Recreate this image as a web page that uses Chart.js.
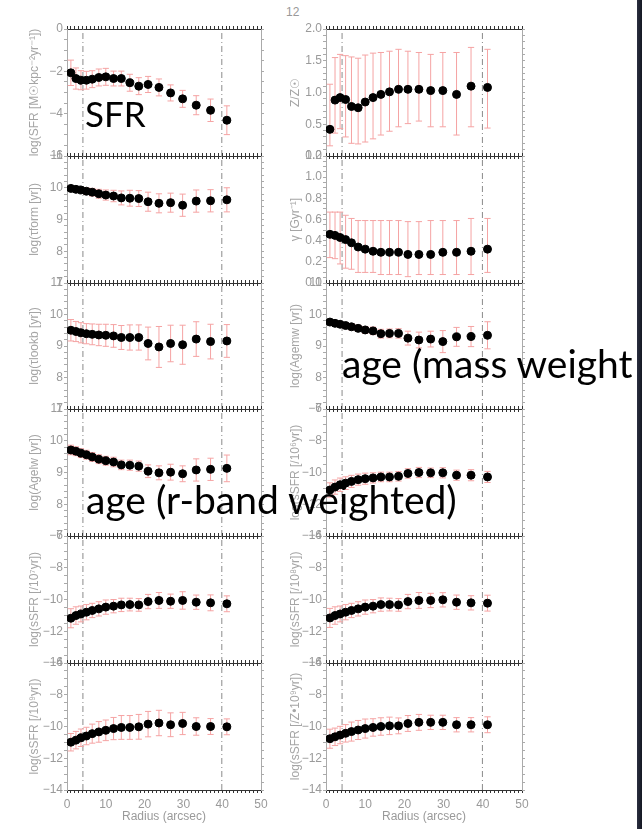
<!DOCTYPE html>
<html>
<head>
<meta charset="UTF-8">
<title>Radial profiles</title>
<script src="https://cdn.jsdelivr.net/npm/chart.js"></script>
<style>
  body { margin: 0; width: 642px; height: 829px; background: #fff; position: relative; overflow: hidden; }
  canvas { position: absolute; }
  .note { position: absolute; font-family: Lato, "Open Sans", sans-serif; color: #000; white-space: nowrap; line-height: 1; }
  #pagenum { position: absolute; left: 286px; top: 5px; font: 12px "Liberation Sans", sans-serif; color: #999; }
  #strip { position: absolute; right: 0; top: 0; width: 5px; height: 829px; background: linear-gradient(to right, #2a2e40, #141722); }
</style>
</head>
<body>
<div id="pagenum">12</div>
<div id="strip"></div>

<script>
// radius of each annulus (arcsec), shared by all panels
const radius = [1.0, 2.3, 3.6, 5.0, 6.5, 8.2, 10.0, 12.0, 14.0, 16.2, 18.5, 20.9, 23.7, 26.7, 29.8, 33.3, 37.0, 41.2];
// dash-dot reference radii
const markR = [4.1, 39.9];

const sfr      = [-2.07, -2.34, -2.42, -2.42, -2.37, -2.29, -2.26, -2.34, -2.34, -2.54, -2.70, -2.62, -2.76, -3.02, -3.30, -3.60, -3.84, -4.31];
const sfrErr   = [0.60, 0.50, 0.45, 0.42, 0.40, 0.40, 0.40, 0.35, 0.35, 0.40, 0.40, 0.38, 0.40, 0.38, 0.40, 0.45, 0.53, 0.68];

const metal    = [0.42, 0.88, 0.92, 0.89, 0.78, 0.76, 0.85, 0.92, 0.97, 1.01, 1.05, 1.05, 1.05, 1.03, 1.03, 0.97, 1.10, 1.08];
const metalHi  = [1.13, 1.55, 1.60, 1.58, 1.56, 1.54, 1.59, 1.62, 1.63, 1.65, 1.68, 1.65, 1.63, 1.60, 1.63, 1.63, 1.71, 1.68];
const metalLo  = [0.16, 0.36, 0.43, 0.30, 0.20, 0.19, 0.22, 0.27, 0.33, 0.39, 0.46, 0.51, 0.55, 0.46, 0.46, 0.33, 0.46, 0.44];

const tauForm    = [9.98, 9.95, 9.93, 9.89, 9.86, 9.81, 9.77, 9.74, 9.68, 9.67, 9.66, 9.56, 9.51, 9.53, 9.45, 9.58, 9.59, 9.62];
const tauFormErr = [0.06, 0.07, 0.08, 0.10, 0.12, 0.14, 0.16, 0.18, 0.22, 0.25, 0.25, 0.30, 0.30, 0.30, 0.35, 0.35, 0.35, 0.38];

const gamma    = [0.46, 0.45, 0.43, 0.41, 0.38, 0.34, 0.32, 0.30, 0.29, 0.29, 0.29, 0.27, 0.27, 0.27, 0.29, 0.29, 0.30, 0.32];
const gammaHi  = [0.67, 0.67, 0.67, 0.64, 0.61, 0.59, 0.59, 0.59, 0.59, 0.59, 0.59, 0.58, 0.58, 0.59, 0.59, 0.59, 0.61, 0.61];
const gammaLo  = [0.24, 0.23, 0.18, 0.14, 0.13, 0.10, 0.10, 0.10, 0.08, 0.08, 0.08, 0.06, 0.08, 0.08, 0.08, 0.08, 0.08, 0.10];

const tauLookb    = [9.50, 9.46, 9.42, 9.39, 9.37, 9.35, 9.34, 9.32, 9.27, 9.27, 9.27, 9.08, 8.97, 9.08, 9.04, 9.22, 9.14, 9.16];
const tauLookbErr = [0.34, 0.32, 0.32, 0.32, 0.33, 0.34, 0.35, 0.36, 0.38, 0.40, 0.40, 0.52, 0.65, 0.58, 0.62, 0.55, 0.55, 0.52];

const ageMw    = [9.76, 9.72, 9.69, 9.65, 9.61, 9.56, 9.51, 9.48, 9.39, 9.40, 9.40, 9.25, 9.19, 9.22, 9.14, 9.29, 9.30, 9.34];
const ageMwErr = [0.08, 0.08, 0.08, 0.09, 0.10, 0.10, 0.11, 0.12, 0.14, 0.14, 0.15, 0.22, 0.25, 0.25, 0.35, 0.30, 0.32, 0.43];

const ageLw    = [9.71, 9.67, 9.61, 9.56, 9.49, 9.42, 9.37, 9.33, 9.24, 9.23, 9.20, 9.04, 8.99, 9.01, 8.96, 9.08, 9.10, 9.13];
const ageLwErr = [0.15, 0.14, 0.14, 0.14, 0.14, 0.14, 0.14, 0.15, 0.15, 0.16, 0.16, 0.20, 0.22, 0.25, 0.25, 0.35, 0.35, 0.42];

const ssfr6    = [-11.10, -10.92, -10.77, -10.67, -10.56, -10.45, -10.39, -10.34, -10.28, -10.28, -10.24, -10.06, -10.00, -10.02, -10.02, -10.17, -10.17, -10.28];
const ssfr6Err = [0.45, 0.45, 0.42, 0.40, 0.38, 0.35, 0.35, 0.32, 0.30, 0.30, 0.30, 0.30, 0.32, 0.30, 0.32, 0.32, 0.35, 0.35];

const ssfr7    = [-11.18, -11.01, -10.91, -10.80, -10.69, -10.59, -10.48, -10.42, -10.34, -10.32, -10.34, -10.13, -10.06, -10.11, -10.06, -10.17, -10.21, -10.27];
const ssfr7Err = [0.60, 0.55, 0.50, 0.48, 0.45, 0.45, 0.45, 0.42, 0.42, 0.40, 0.40, 0.45, 0.50, 0.45, 0.55, 0.45, 0.50, 0.50];

const ssfr8    = [-11.16, -11.01, -10.91, -10.80, -10.69, -10.59, -10.48, -10.42, -10.32, -10.32, -10.34, -10.13, -10.06, -10.06, -10.02, -10.17, -10.21, -10.23];
const ssfr8Err = [0.60, 0.55, 0.50, 0.48, 0.45, 0.45, 0.45, 0.42, 0.42, 0.40, 0.40, 0.45, 0.50, 0.45, 0.45, 0.45, 0.45, 0.50];

const ssfr9    = [-10.99, -10.86, -10.71, -10.60, -10.45, -10.34, -10.24, -10.13, -10.06, -10.06, -10.02, -9.85, -9.78, -9.89, -9.81, -10.00, -10.00, -10.02];
const ssfr9Err = [0.55, 0.55, 0.55, 0.55, 0.60, 0.65, 0.65, 0.70, 0.75, 0.75, 0.78, 0.80, 0.80, 0.75, 0.70, 0.55, 0.50, 0.50];

const ssfrZ    = [-10.77, -10.65, -10.54, -10.43, -10.32, -10.22, -10.13, -10.06, -10.00, -9.96, -9.96, -9.81, -9.74, -9.74, -9.74, -9.89, -9.89, -9.89];
const ssfrZErr = [0.60, 0.55, 0.55, 0.55, 0.60, 0.60, 0.60, 0.55, 0.55, 0.55, 0.50, 0.50, 0.50, 0.45, 0.45, 0.45, 0.45, 0.50];

const xTickLabels = [0, 10, 20, 30, 40, 50];

function minus(v, i) { return v.map((a, k) => a - i[k]); }
function plus(v, i) { return v.map((a, k) => a + i[k]); }

const panels = [
  { col: 0, row: 0, title: 'log(SFR [M\u2609kpc\u207B\u00B2yr\u207B\u00B9])', min: -6, max: 0, major: 2, minor: 0.5, dec: 0, y: sfr, lo: minus(sfr, sfrErr), hi: plus(sfr, sfrErr) },
  { col: 1, row: 0, title: 'Z/Z\u2609', min: 0, max: 2, major: 0.5, minor: 0.1, dec: 1, y: metal, lo: metalLo, hi: metalHi },
  { col: 0, row: 1, title: 'log(\u03C4form [yr])', min: 7, max: 11, major: 1, minor: 0.2, dec: 0, y: tauForm, lo: minus(tauForm, tauFormErr), hi: plus(tauForm, tauFormErr) },
  { col: 1, row: 1, title: '\u03B3 [Gyr\u207B\u00B9]', min: 0, max: 1.2, major: 0.2, minor: 0.05, dec: 1, y: gamma, lo: gammaLo, hi: gammaHi },
  { col: 0, row: 2, title: 'log(\u03C4lookb [yr])', min: 7, max: 11, major: 1, minor: 0.2, dec: 0, y: tauLookb, lo: minus(tauLookb, tauLookbErr), hi: plus(tauLookb, tauLookbErr) },
  { col: 1, row: 2, title: 'log(Agemw [yr])', min: 7, max: 11, major: 1, minor: 0.2, dec: 0, y: ageMw, lo: minus(ageMw, ageMwErr), hi: plus(ageMw, ageMwErr) },
  { col: 0, row: 3, title: 'log(Agelw [yr])', min: 7, max: 11, major: 1, minor: 0.2, dec: 0, y: ageLw, lo: minus(ageLw, ageLwErr), hi: plus(ageLw, ageLwErr) },
  { col: 1, row: 3, title: 'log(sSFR [/10\u2076yr])', min: -14, max: -6, major: 2, minor: 0.5, dec: 0, y: ssfr6, lo: minus(ssfr6, ssfr6Err), hi: plus(ssfr6, ssfr6Err) },
  { col: 0, row: 4, title: 'log(sSFR [/10\u2077yr])', min: -14, max: -6, major: 2, minor: 0.5, dec: 0, y: ssfr7, lo: minus(ssfr7, ssfr7Err), hi: plus(ssfr7, ssfr7Err) },
  { col: 1, row: 4, title: 'log(sSFR [/10\u2078yr])', min: -14, max: -6, major: 2, minor: 0.5, dec: 0, y: ssfr8, lo: minus(ssfr8, ssfr8Err), hi: plus(ssfr8, ssfr8Err) },
  { col: 0, row: 5, title: 'log(sSFR [/10\u2079yr])', min: -14, max: -6, major: 2, minor: 0.5, dec: 0, y: ssfr9, lo: minus(ssfr9, ssfr9Err), hi: plus(ssfr9, ssfr9Err) },
  { col: 1, row: 5, title: 'log(sSFR [/Z\u202210\u2079yr])', min: -14, max: -6, major: 2, minor: 0.5, dec: 0, y: ssfrZ, lo: minus(ssfrZ, ssfrZErr), hi: plus(ssfrZ, ssfrZErr) }
];

// layout of the two columns (page pixels)
const COLS = [
  { left: 20, plotLeft: 67, plotRight: 261, right: 282, titlePad: 7 },
  { left: 286, plotLeft: 326, plotRight: 522, right: 544, titlePad: 2 }
];
const ROW_TOP = 29, ROW_H = 126.8, CAP = 0.8;

const grey = '#9a9a9a';
const tickFont = { family: 'Liberation Sans', size: 12 };

function errorSegments(xs, lo, hi) {
  const pts = [];
  xs.forEach((x, i) => {
    pts.push({ x: x, y: lo[i] }, { x: x, y: hi[i] }, { x: x, y: null });
    pts.push({ x: x - CAP, y: lo[i] }, { x: x + CAP, y: lo[i] }, { x: x, y: null });
    pts.push({ x: x - CAP, y: hi[i] }, { x: x + CAP, y: hi[i] }, { x: x, y: null });
  });
  return pts;
}

function markLines(min, max) {
  const pts = [];
  markR.forEach(r => { pts.push({ x: r, y: min }, { x: r, y: max }, { x: r, y: null }); });
  return pts;
}

function isMajor(v, major) {
  const q = v / major;
  return Math.abs(q - Math.round(q)) < 1e-6;
}

panels.forEach(p => {
  const c = COLS[p.col];
  const pt = Math.round(ROW_TOP + p.row * ROW_H);
  const pb = Math.round(ROW_TOP + (p.row + 1) * ROW_H);
  const bottom = p.row === 5;
  const bottomH = bottom ? 40 : 10;
  const canvas = document.createElement('canvas');
  canvas.width = c.right - c.left;
  canvas.height = (pb - pt) + 10 + bottomH;
  canvas.style.left = c.left + 'px';
  canvas.style.top = (pt - 10) + 'px';
  document.body.appendChild(canvas);

  new Chart(canvas, {
    type: 'scatter',
    data: {
      datasets: [
        {
          type: 'scatter',
          data: radius.map((r, i) => ({ x: r, y: p.y[i] })),
          backgroundColor: '#000',
          borderColor: '#000',
          pointRadius: 4,
          order: 0
        },
        {
          type: 'line',
          data: errorSegments(radius, p.lo, p.hi),
          borderColor: '#f5a3a3',
          borderWidth: 1,
          pointRadius: 0,
          spanGaps: false,
          order: 1
        },
        {
          type: 'line',
          data: markLines(p.min, p.max),
          borderColor: '#8a8a8a',
          borderWidth: 1,
          borderDash: [6, 3, 1, 3],
          pointRadius: 0,
          spanGaps: false,
          order: 2
        }
      ]
    },
    options: {
      responsive: false,
      animation: false,
      devicePixelRatio: 1,
      layout: { padding: { left: 0, right: c.right - c.plotRight - 4, top: 0, bottom: 0 } },
      plugins: { legend: { display: false }, tooltip: { enabled: false } },
      scales: {
        x: {
          type: 'linear', position: 'bottom', min: 0, max: 50,
          afterFit: s => { s.height = bottomH; },
          border: { color: '#333' },
          grid: { drawOnChartArea: false, tickLength: 3, color: '#333' },
          ticks: {
            display: bottom, stepSize: 1, autoSkip: false, maxRotation: 0, padding: 4,
            color: grey, font: tickFont,
            callback: v => xTickLabels.includes(v) ? String(v) : ''
          },
          title: { display: bottom, text: 'Radius (arcsec)', color: grey, font: tickFont, padding: { top: 0, bottom: 6 } }
        },
        x2: {
          type: 'linear', position: 'top', min: 0, max: 50,
          afterFit: s => { s.height = 10; },
          border: { color: '#333' },
          grid: { drawOnChartArea: false, tickLength: 3, color: '#333' },
          ticks: { display: false, stepSize: 1, autoSkip: false }
        },
        y: {
          type: 'linear', position: 'left', min: p.min, max: p.max,
          afterFit: s => { s.width = c.plotLeft - c.left; },
          border: { color: '#aaa' },
          grid: { drawOnChartArea: false, tickLength: 3, color: '#aaa' },
          ticks: {
            stepSize: p.minor, autoSkip: false, padding: 1, color: grey, font: tickFont,
            callback: v => isMajor(v, p.major) ? (v < 0 ? '\u2212' + Math.abs(v).toFixed(p.dec) : v.toFixed(p.dec)) : ''
          },
          title: { display: true, text: p.title, color: '#a5a5a5', font: { family: 'Liberation Sans', size: 12 }, padding: { top: c.titlePad, bottom: 0 } }
        },
        y2: {
          type: 'linear', position: 'right', min: p.min, max: p.max,
          afterFit: s => { s.width = 4; },
          border: { color: '#aaa' },
          grid: { drawOnChartArea: false, tickLength: 3, color: '#aaa' },
          ticks: { display: false, stepSize: p.minor, autoSkip: false }
        }
      }
    }
  });
});
</script>

<div class="note" style="left:85px; top:96px; font-size:35px;">SFR</div>
<div class="note" style="left:342px; top:344px; font-size:39px;">age (mass weight</div>
<div class="note" style="left:86px; top:480px; font-size:39px;">age (r-band weighted)</div>
</body>
</html>
